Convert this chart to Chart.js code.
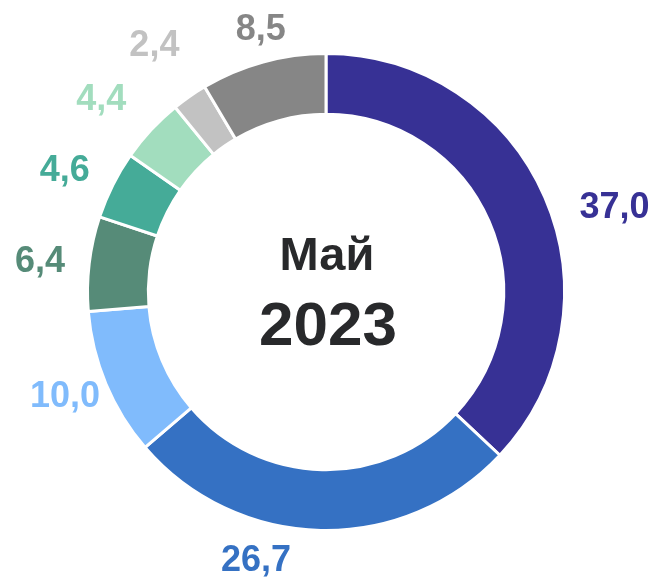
<!DOCTYPE html>
<html>
<head>
<meta charset="utf-8">
<script src="https://cdn.jsdelivr.net/npm/chart.js@4"></script>
<style>
  html, body { margin: 0; padding: 0; background: #ffffff; }
  #wrap { width: 654px; height: 580px; position: relative; }
</style>
</head>
<body>
<div id="wrap"><canvas id="c" width="654" height="580"></canvas></div>
<script>
// ---- data ----
const categories = ["s1", "s2", "s3", "s4", "s5", "s6", "s7", "s8"];
const values = [37.0, 26.7, 10.0, 6.4, 4.6, 4.4, 2.4, 8.5];
const valueLabels = ["37,0", "26,7", "10,0", "6,4", "4,6", "4,4", "2,4", "8,5"];
const centerLines = ["Май", "2023"];

// ---- styles ----
const colors = ["#373195", "#3571C3", "#80BBFC", "#568B78", "#45AB98", "#A2DDBE", "#C2C2C2", "#868686"];
// label placement: radius factor (relative to outer radius) and angle shift (deg)
const labelRadiusFactor = [1.26, 1.166, 1.18, 1.206, 1.207, 1.24, 1.257, 1.13];
const labelAngleShift = [7.2, 13.3, 0.7, -0.8, -1.8, -2.3, 0, 1.3];

const outLabels = {
  id: 'outLabels',
  afterDatasetsDraw(chart) {
    const ctx = chart.ctx;
    const meta = chart.getDatasetMeta(0);
    ctx.save();
    ctx.font = 'bold 36px "Liberation Sans", Arial, sans-serif';
    ctx.textAlign = 'center';
    ctx.textBaseline = 'middle';
    meta.data.forEach((arc, i) => {
      const p = arc.getProps(['x', 'y', 'startAngle', 'endAngle', 'outerRadius'], true);
      const mid = (p.startAngle + p.endAngle) / 2 + labelAngleShift[i] * Math.PI / 180;
      const r = p.outerRadius * labelRadiusFactor[i];
      const x = p.x + Math.cos(mid) * r;
      const y = p.y + Math.sin(mid) * r;
      ctx.fillStyle = colors[i];
      ctx.fillText(valueLabels[i], x, y);
    });
    // center text
    const a = meta.data[0];
    const cx = a.x, cy = a.y;
    ctx.fillStyle = '#28292B';
    ctx.font = 'bold 47px "Liberation Sans", Arial, sans-serif';
    ctx.fillText(centerLines[0], cx + 1, cy - 35);
    ctx.font = 'bold 62px "Liberation Sans", Arial, sans-serif';
    ctx.fillText(centerLines[1], cx + 2, cy + 36);
    ctx.restore();
  }
};

new Chart(document.getElementById('c'), {
  type: 'doughnut',
  data: {
    labels: categories,
    datasets: [{
      data: values,
      backgroundColor: colors,
      borderColor: '#ffffff',
      borderWidth: 3,
      hoverOffset: 0
    }]
  },
  options: {
    responsive: false,
    animation: false,
    cutout: '74.5%',
    layout: { padding: { left: 86, right: 88, top: 52, bottom: 48 } },
    plugins: {
      legend: { display: false },
      tooltip: { enabled: false }
    }
  },
  plugins: [outLabels]
});
</script>
</body>
</html>
